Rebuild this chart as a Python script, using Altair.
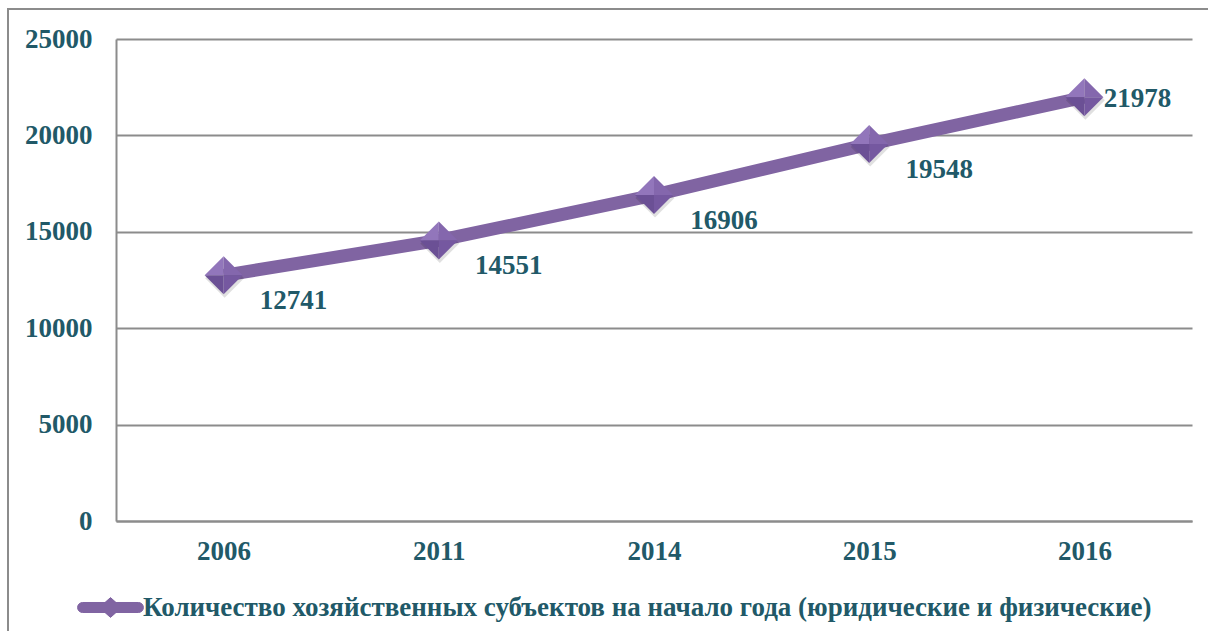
import altair as alt
import pandas as pd

years = ["2006", "2011", "2014", "2015", "2016"]
values = [12741, 14551, 16906, 19548, 21978]
series_name = "Количество хозяйственных субъектов на начало года (юридические и физические)"
y_ticks = [0, 5000, 10000, 15000, 20000, 25000]

df = pd.DataFrame({"year": years, "value": values, "series": [series_name] * len(years)})
frame_df = pd.DataFrame({"a": [0]})

FONT = "Liberation Serif"
TXT = "#215968"
PURPLE = "#8064A2"
GRID = "#8c8c8c"
FS = 27

x_enc = alt.X("year:O", sort=years, axis=alt.Axis(
    title=None, labelAngle=0, ticks=False, domain=True, domainColor=GRID, domainWidth=2,
    labelFont=FONT, labelFontSize=FS, labelFontWeight="bold", labelColor=TXT,
    labelPadding=30, labelBaseline="middle", grid=False))
y_enc = alt.Y("value:Q", scale=alt.Scale(domain=[0, 25000], nice=False), axis=alt.Axis(
    title=None, values=y_ticks, format="d", ticks=False, domain=True, domainColor=GRID,
    domainWidth=2, grid=True, gridColor=GRID, gridWidth=2, labelFont=FONT, labelFontSize=FS,
    labelFontWeight="bold", labelColor=TXT, labelPadding=24, labelBaseline="middle"))

base = alt.Chart(df)

legend_path = ("M-0.93,-0.167L0.93,-0.167A0.167,0.167 0 0 1 0.93,0.167L-0.93,0.167"
               "A0.167,0.167 0 0 1 -0.93,-0.167Z M-0.37,0L0,-0.33L0.37,0L0,0.33Z")

line = base.mark_line(strokeWidth=13, color=PURPLE).encode(
    x=x_enc, y=y_enc,
    color=alt.Color("series:N", scale=alt.Scale(range=[PURPLE]), legend=alt.Legend(
        title=None, orient="none", legendX=-36, legendY=538, symbolType=legend_path,
        symbolSize=3600, symbolFillColor=PURPLE, symbolStrokeColor="#6a5190",
        symbolStrokeWidth=1, labelFont=FONT, labelFontSize=FS, labelFontWeight="bold",
        labelColor=TXT, labelOffset=2, labelLimit=1200)))

facets = [
    ("M-1,0L0,-1L0,0Z", "#9276bb"),
    ("M0,-1L1,0L0,0Z", "#8467ad"),
    ("M1,0L0,1L0,0Z", "#7558a0"),
    ("M0,1L-1,0L0,0Z", "#6b5095"),
]
shadow = base.mark_point(shape="diamond", filled=True, size=1520, color="#000000",
                         opacity=0.12, yOffset=3, xOffset=1).encode(x="year:O", y="value:Q")
diamonds = [base.mark_point(shape=p, filled=True, size=1444, color=c, opacity=1).encode(
    x="year:O", y="value:Q") for p, c in facets]

lab_main = base.transform_filter(alt.datum.year != "2016").mark_text(
    font=FONT, fontSize=FS, fontWeight="bold", color=TXT, dx=70, dy=26,
    align="center", baseline="middle").encode(x="year:O", y="value:Q", text="value:Q")
lab_last = base.transform_filter(alt.datum.year == "2016").mark_text(
    font=FONT, fontSize=FS, fontWeight="bold", color=TXT, dx=53, dy=2,
    align="center", baseline="middle").encode(x="year:O", y="value:Q", text="value:Q")

frame = alt.Chart(frame_df).mark_rect(fill=None, stroke="#8c8c8c", strokeWidth=2).encode(
    x=alt.value(-108), y=alt.value(-30), x2=alt.value(1110), y2=alt.value(640))

chart = alt.layer(frame, line, shadow, *diamonds, lab_main, lab_last).properties(
    width=1076, height=482, autosize=alt.AutoSizeParams(type="none"),
    padding={"left": 116, "top": 39, "right": 16, "bottom": 110},
    background="white"
).configure_view(stroke=None)

chart.save("out.html", embed_options={"renderer": "svg", "actions": False})
